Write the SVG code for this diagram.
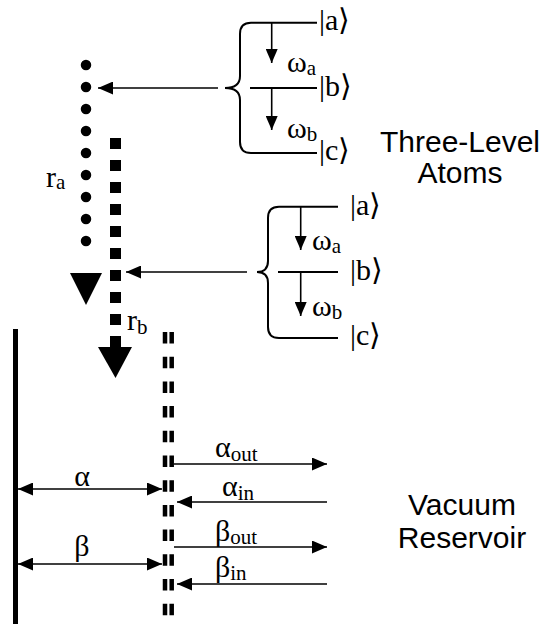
<svg xmlns="http://www.w3.org/2000/svg" width="545" height="624" viewBox="0 0 545 624">
<style>
.ln{stroke:#000;stroke-width:1.6;fill:none}
.br{stroke:#000;stroke-width:2;fill:none}
.tm{font-family:"Liberation Serif","Times New Roman",Times,serif;font-size:30px;fill:#000}
.sb{font-size:21px}
.sn{font-family:"Liberation Sans",Arial,sans-serif;font-size:30px;fill:#000;text-anchor:middle}
</style>
<defs>
<marker id="ah" markerUnits="userSpaceOnUse" viewBox="0 0 15 13" refX="15" refY="6.5" markerWidth="15" markerHeight="13" orient="auto-start-reverse">
<path d="M0,0 L15,6.5 L0,13 z" fill="#000"/>
</marker>
<marker id="as" markerUnits="userSpaceOnUse" viewBox="0 0 14 12" refX="14" refY="6" markerWidth="14" markerHeight="12" orient="auto">
<path d="M0,0 L14,6 L0,12 z" fill="#000"/>
</marker>
</defs>
<rect width="545" height="624" fill="#fff"/>

<g id="beam-a">
<path d="M86 65 V263" stroke="#000" stroke-width="10.5" stroke-linecap="round" stroke-dasharray="0 22" fill="none"/>
<polygon points="70,273 102,273 86,305" fill="#000"/>
<text class="tm" x="46" y="187">r<tspan class="sb" dy="2">a</tspan></text>
</g>

<g id="beam-b">
<path d="M115.5 138 V347" stroke="#000" stroke-width="11" stroke-dasharray="11 11" fill="none"/>
<polygon points="98,347 132,347 115.5,378" fill="#000"/>
<text class="tm" x="127" y="330">r<tspan class="sb" dy="4">b</tspan></text>
</g>

<g id="atom1">
<path class="br" d="M317 22.7 H251 Q240 22.7 240 34 V76 Q240 88 225 88 Q240 88 240 100 V142 Q240 153 251 153 H317"/>
<path class="br" d="M250 88 H317"/>
<path class="ln" d="M271.7 22.7 V63" marker-end="url(#as)"/>
<path class="ln" d="M271.7 88 V130" marker-end="url(#as)"/>
<text class="tm" x="287" y="72">ω<tspan class="sb" dy="3">a</tspan></text>
<text class="tm" x="287" y="138">ω<tspan class="sb" dy="3">b</tspan></text>
<text class="tm" x="319" y="30">|a⟩</text>
<text class="tm" x="319" y="96">|b⟩</text>
<text class="tm" x="319" y="160">|c⟩</text>
</g>

<g id="atom2">
<path class="br" d="M338 206.7 H279 Q268 206.7 268 218 V261 Q268 272 257 272 Q268 272 268 283 V327 Q268 338 279 338 H338"/>
<path class="br" d="M278 272 H338"/>
<path class="ln" d="M300.7 206.7 V250" marker-end="url(#as)"/>
<path class="ln" d="M300.7 272 V316" marker-end="url(#as)"/>
<text class="tm" x="312" y="250">ω<tspan class="sb" dy="3">a</tspan></text>
<text class="tm" x="312" y="316">ω<tspan class="sb" dy="3">b</tspan></text>
<text class="tm" x="350" y="215">|a⟩</text>
<text class="tm" x="350" y="280">|b⟩</text>
<text class="tm" x="350" y="345">|c⟩</text>
</g>

<g id="label-atoms">
<text class="sn" x="460" y="152">Three-Level</text>
<text class="sn" x="460" y="183">Atoms</text>
</g>

<g id="mirror">
<rect x="13" y="329" width="5" height="295" fill="#000"/>
</g>

<g id="coupler">
<path d="M165 332 V624 M171.7 332 V624" stroke="#000" stroke-width="4.5" stroke-dasharray="11.5 13.2" fill="none"/>
</g>

<g id="label-reservoir">
<text class="sn" x="462" y="515">Vacuum</text>
<text class="sn" x="462" y="548">Reservoir</text>
</g>

<g id="connectors">
<path class="ln" d="M218 88 H98" marker-end="url(#ah)"/>
<path class="ln" d="M247 272 H126" marker-end="url(#ah)"/>
<path class="ln" d="M18 489 H162" marker-start="url(#ah)" marker-end="url(#ah)"/>
<path class="ln" d="M18 564 H162" marker-start="url(#ah)" marker-end="url(#ah)"/>
<path class="ln" d="M174 464 H327" marker-end="url(#ah)"/>
<path class="ln" d="M327 502 H177" marker-end="url(#ah)"/>
<path class="ln" d="M174 547 H327" marker-end="url(#ah)"/>
<path class="ln" d="M327 584 H177" marker-end="url(#ah)"/>
</g>

<g id="field-labels">
<text class="tm" x="82" y="486" text-anchor="middle">α</text>
<text class="tm" x="82" y="556" text-anchor="middle">β</text>
<text class="tm" x="215" y="457">α<tspan class="sb" dy="4">out</tspan></text>
<text class="tm" x="222" y="496">α<tspan class="sb" dy="4">in</tspan></text>
<text class="tm" x="215" y="541">β<tspan class="sb" dy="3">out</tspan></text>
<text class="tm" x="215" y="577">β<tspan class="sb" dy="3">in</tspan></text>
</g>
</svg>
